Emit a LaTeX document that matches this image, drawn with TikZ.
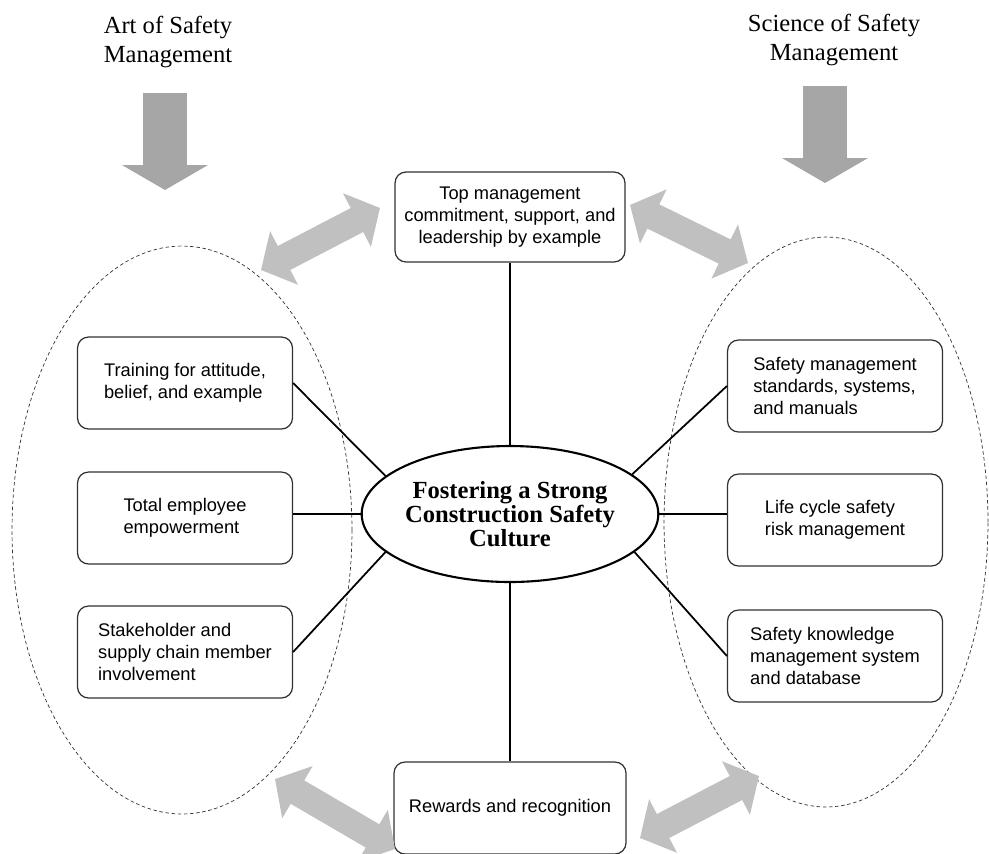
\documentclass[tikz,border=0pt]{standalone}
\usepackage{fontspec}
\setmainfont{Liberation Serif}
\setsansfont{Liberation Sans}
\usetikzlibrary{arrows.meta,shapes.geometric}
\definecolor{boxline}{RGB}{50,50,50}
\definecolor{downgray}{RGB}{166,166,166}
\definecolor{pairgray}{RGB}{192,192,192}

\begin{document}
\begin{tikzpicture}[x=0.02cm, y=-0.02cm,
    title/.style={align=center, inner sep=0pt, font=\fontsize{14}{17}\selectfont},
    item/.style={draw=boxline, line width=0.7pt, rounded corners=0.22cm,
        minimum width=4.3cm, minimum height=1.84cm, inner sep=0pt, align=left,
        font=\sffamily\fontsize{10.4}{12.3}\selectfont},
    link/.style={line width=1pt},
    side/.style={draw=boxline, line width=0.4pt, dash pattern=on 2pt off 1.5pt},
    bigdown/.style={draw=downgray, line width=0.88cm, -{Triangle[length=0.5cm, width=1.7cm]}},
    twoway/.style={draw=pairgray, line width=0.54cm,
        {Triangle[length=0.52cm, width=1.18cm]}-{Triangle[length=0.52cm, width=1.18cm]}}]
    \useasboundingbox (0,0) rectangle (989,853);

    % art and science
    \node[title] (art) at (168,42) {Art of Safety\\Management};
    \node[title] (sci) at (834,40) {Science of Safety\\Management};
    \coordinate (d1) at (165,93);
    \coordinate (d2) at (165,190);
    \coordinate (d3) at (825,86);
    \coordinate (d4) at (825,183);
    \draw[bigdown] (d1) -- (d2);
    \draw[bigdown] (d3) -- (d4);

    % dashed groups
    \draw[side] (182,530) ellipse [x radius=3.4cm, y radius=5.68cm];
    \draw[side] (826,522) ellipse [x radius=3.24cm, y radius=5.7cm];

    % centre
    \node[ellipse, draw, line width=1.2pt, minimum width=5.6cm, minimum height=2.72cm,
        inner sep=0pt, align=center, font=\bfseries\fontsize{14}{13.7}\selectfont]
        (fc) at (510,514) {Fostering a Strong\\Construction Safety\\Culture};

    % top and bottom
    \node[item, align=center, minimum width=4.6cm, minimum height=1.8cm] (top) at (510,217)
        {Top management\\commitment, support, and\\leadership by example};
    \node[item, align=center, minimum width=4.64cm] (bot) at (510,808) {Rewards and recognition};

    % art side
    \node[item] (l1) at (185,383) {Training for attitude,\\belief, and example};
    \node[item] (l2) at (185,518) {Total employee\\empowerment};
    \node[item] (l3) at (185,652) {Stakeholder and\\supply chain member\\involvement};

    % science side
    \node[item] (r1) at (835,386) {Safety management\\standards, systems,\\and manuals};
    \node[item] (r2) at (835,520) {Life cycle safety\\risk management};
    \node[item] (r3) at (835,656) {Safety knowledge\\management system\\and database};

    \draw[link] (top.south) -- (fc.north);
    \draw[link] (fc.south) -- (bot.north);
    \draw[link] (l1.east) -- (fc.163);
    \draw[link] (fc.west) -- (fc.west -| l2.east);
    \draw[link] (l3.east) -- (fc.197);
    \draw[link] (r1.west) -- (fc.18);
    \draw[link] (fc.east) -- (fc.east -| r2.west);
    \draw[link] (r3.west) -- (fc.343);

    % two way arrows
    \coordinate (p1) at (261,270);
    \coordinate (p2) at (380,208);
    \coordinate (p3) at (630,205);
    \coordinate (p4) at (748,263);
    \coordinate (p5) at (275,779);
    \coordinate (p6) at (395,849);
    \coordinate (p7) at (640,838);
    \coordinate (p8) at (759,776);
    \draw[twoway] (p1) -- (p2);
    \draw[twoway] (p3) -- (p4);
    \draw[twoway] (p5) -- (p6);
    \draw[twoway] (p7) -- (p8);
\end{tikzpicture}
\end{document}
